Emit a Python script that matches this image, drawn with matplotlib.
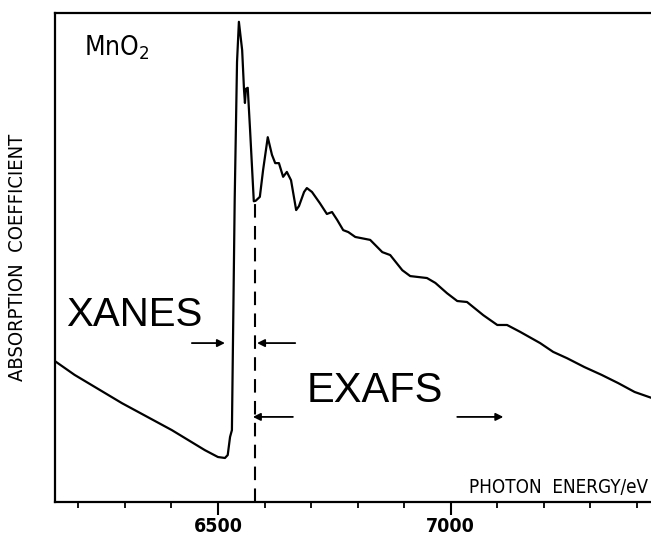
import matplotlib
matplotlib.use('Agg')
import matplotlib.pyplot as plt
import numpy as np

########################################################################
# Mn K-edge absorption spectrum of MnO2
# energy in eV, absorption in arbitrary units (0 = axis line, 1 = top frame)

energy = [6150, 6192, 6294, 6401, 6472, 6500, 6515, 6521, 6526, 6530,
          6536, 6541, 6545, 6552, 6556, 6558, 6560, 6564, 6569, 6577,
          6581, 6590, 6597, 6607, 6616, 6623, 6631, 6640, 6648, 6657,
          6668, 6674, 6685, 6691, 6702, 6719, 6734, 6745, 6756, 6769,
          6780, 6795, 6827, 6853, 6870, 6896, 6913, 6949, 6967, 6992,
          7014, 7035, 7070, 7100, 7121, 7149, 7192, 7220, 7250, 7287,
          7324, 7360, 7395, 7431]
absorption = [0.288, 0.260, 0.202, 0.147, 0.106, 0.092, 0.090, 0.096, 0.133, 0.147,
              0.620, 0.900, 0.982, 0.924, 0.843, 0.816, 0.845, 0.847, 0.761, 0.615,
              0.616, 0.624, 0.679, 0.746, 0.710, 0.693, 0.693, 0.665, 0.675, 0.658,
              0.597, 0.605, 0.634, 0.642, 0.634, 0.611, 0.589, 0.593, 0.577, 0.556,
              0.552, 0.542, 0.536, 0.511, 0.505, 0.474, 0.462, 0.458, 0.448, 0.427,
              0.411, 0.409, 0.382, 0.362, 0.362, 0.348, 0.325, 0.307, 0.294, 0.276,
              0.260, 0.243, 0.225, 0.213]

edge_energy = 6580      # dashed line separating XANES / EXAFS
edge_height = 0.615

major_ticks = [6500, 7000]
minor_ticks = [6200, 6300, 6400, 6600, 6700, 6800, 6900, 7100, 7200, 7300, 7400]

# arrows: (start energy, end energy, height)
xanes_arrows = [(6444, 6515, 0.325), (6666, 6584, 0.325)]
exafs_arrows = [(6661, 6575, 0.174), (7014, 7113, 0.174)]

########################################################################

narrow = dict(family=['DejaVu Sans'], stretch='condensed')
wide = dict(family=['Liberation Sans', 'DejaVu Sans'])
plt.rcParams['mathtext.default'] = 'regular'

fig = plt.figure(figsize=(6.51, 5.36), dpi=100)
ax = fig.add_axes([55 / 651.0, 34 / 536.0, 628.5 / 651.0, 489 / 536.0])

ax.plot(energy, absorption, color='black', lw=1.6, solid_joinstyle='round')
ax.plot([edge_energy, edge_energy], [0, edge_height], color='black', lw=1.5,
        dashes=(6.5, 4))

for x0, x1, y in xanes_arrows + exafs_arrows:
    ax.annotate('', xy=(x1, y), xytext=(x0, y),
                arrowprops=dict(arrowstyle='-|>', color='black', lw=1.3,
                                mutation_scale=11, shrinkA=0, shrinkB=0))

ax.text(6320, 0.382, 'XANES', fontsize=29, ha='center', va='center', **wide)
ax.text(6838, 0.227, 'EXAFS', fontsize=30, ha='center', va='center', **wide)
ax.text(6212, 0.928, r'MnO$_2$', fontsize=19, ha='left', va='center', **narrow)
ax.text(7040, 0.018, 'PHOTON  ENERGY/eV', fontsize=13.5, ha='left', va='baseline',
        **narrow)

ax.set_xlim(6150, 7500)
ax.set_ylim(0, 1)

ax.set_xticks(major_ticks)
ax.set_xticks(minor_ticks, minor=True)
ax.set_xticklabels([str(t) for t in major_ticks], fontsize=14, fontweight='bold', **narrow)
ax.set_yticks([])
ax.tick_params(axis='x', which='major', direction='out', length=9.5, width=1.5, pad=1)
ax.tick_params(axis='x', which='minor', direction='out', length=4.5, width=1.3)

ax.set_ylabel('ABSORPTION  COEFFICIENT', fontsize=14.5, **narrow)
ax.yaxis.set_label_coords(-0.045, 0.5)

for side in ['left', 'bottom', 'top']:
    ax.spines[side].set_linewidth(1.6)
ax.spines['right'].set_visible(False)

fig.savefig('out.png', dpi=100)
